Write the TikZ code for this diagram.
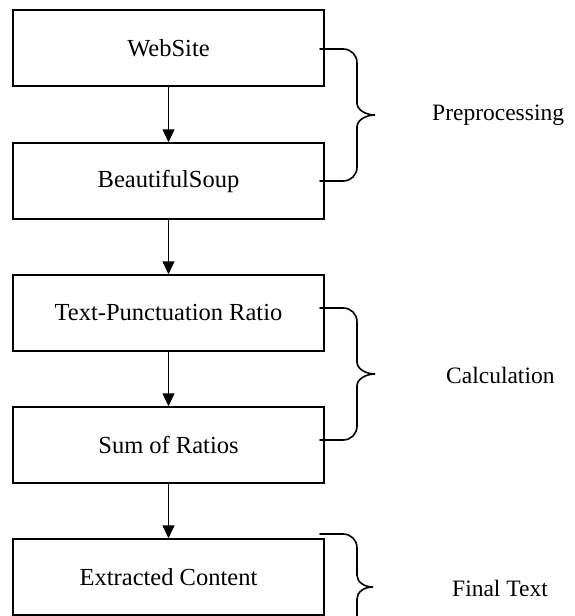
\documentclass[tikz,border=0pt]{standalone}
\usepackage{fontspec}
\setmainfont{Liberation Serif}
\usetikzlibrary{arrows.meta}
\begin{document}
\begin{tikzpicture}[x=1pt,y=-1pt,
  stepbox/.style={draw=black,line width=1.5pt,minimum width=311pt,minimum height=76pt,inner sep=0pt,font=\fontsize{24.5}{28}\selectfont},
  flow/.style={line width=1.5pt,-{Triangle[width=12pt,length=13pt]}},
  bracket/.style={line width=1.6pt,line cap=round},
  grouplabel/.style={anchor=west,inner sep=0pt,font=\fontsize{23.5}{27}\selectfont}]
\useasboundingbox (0,0) rectangle (574,616);
\clip (0,0) rectangle (574,616);
\node[stepbox] (web) at (168.5,48) {WebSite};
\node[stepbox] (soup) at (168.5,181) {BeautifulSoup};
\node[stepbox] (ratio) at (168.5,313) {Text-Punctuation Ratio};
\node[stepbox] (sum) at (168.5,445) {Sum of Ratios};
\node[stepbox] (extract) at (168.5,577) {Extracted Content};
\draw[flow] (web) -- (soup);
\draw[flow] (soup) -- (ratio);
\draw[flow] (ratio) -- (sum);
\draw[flow] (sum) -- (extract);
% braces
\draw[bracket] (320,49) -- (343,49) .. controls (351,49) and (357,55) .. (357,63) -- (357,103)
  .. controls (357,110) and (366,115) .. (375,115)
  .. controls (366,115) and (357,120) .. (357,127) -- (357,167)
  .. controls (357,175) and (351,181) .. (343,181) -- (320,181);
\draw[bracket] (320,308) -- (343,308) .. controls (351,308) and (357,314) .. (357,322) -- (357,362)
  .. controls (357,369) and (366,374) .. (375,374)
  .. controls (366,374) and (357,379) .. (357,386) -- (357,426)
  .. controls (357,434) and (351,440) .. (343,440) -- (320,440);
\draw[bracket] (320,534) -- (343,534) .. controls (351,534) and (357,540) .. (357,548) -- (357,575)
  .. controls (357,582) and (364,587) .. (373,587)
  .. controls (364,587) and (357,592) .. (357,599) -- (357,626)
  .. controls (357,634) and (351,640) .. (343,640) -- (320,640);
\node[grouplabel] (pre) at (432,115) {Preprocessing};
\node[grouplabel] (calc) at (446,375) {Calculation};
\node[grouplabel] (final) at (452,588) {Final Text};
\end{tikzpicture}
\end{document}
